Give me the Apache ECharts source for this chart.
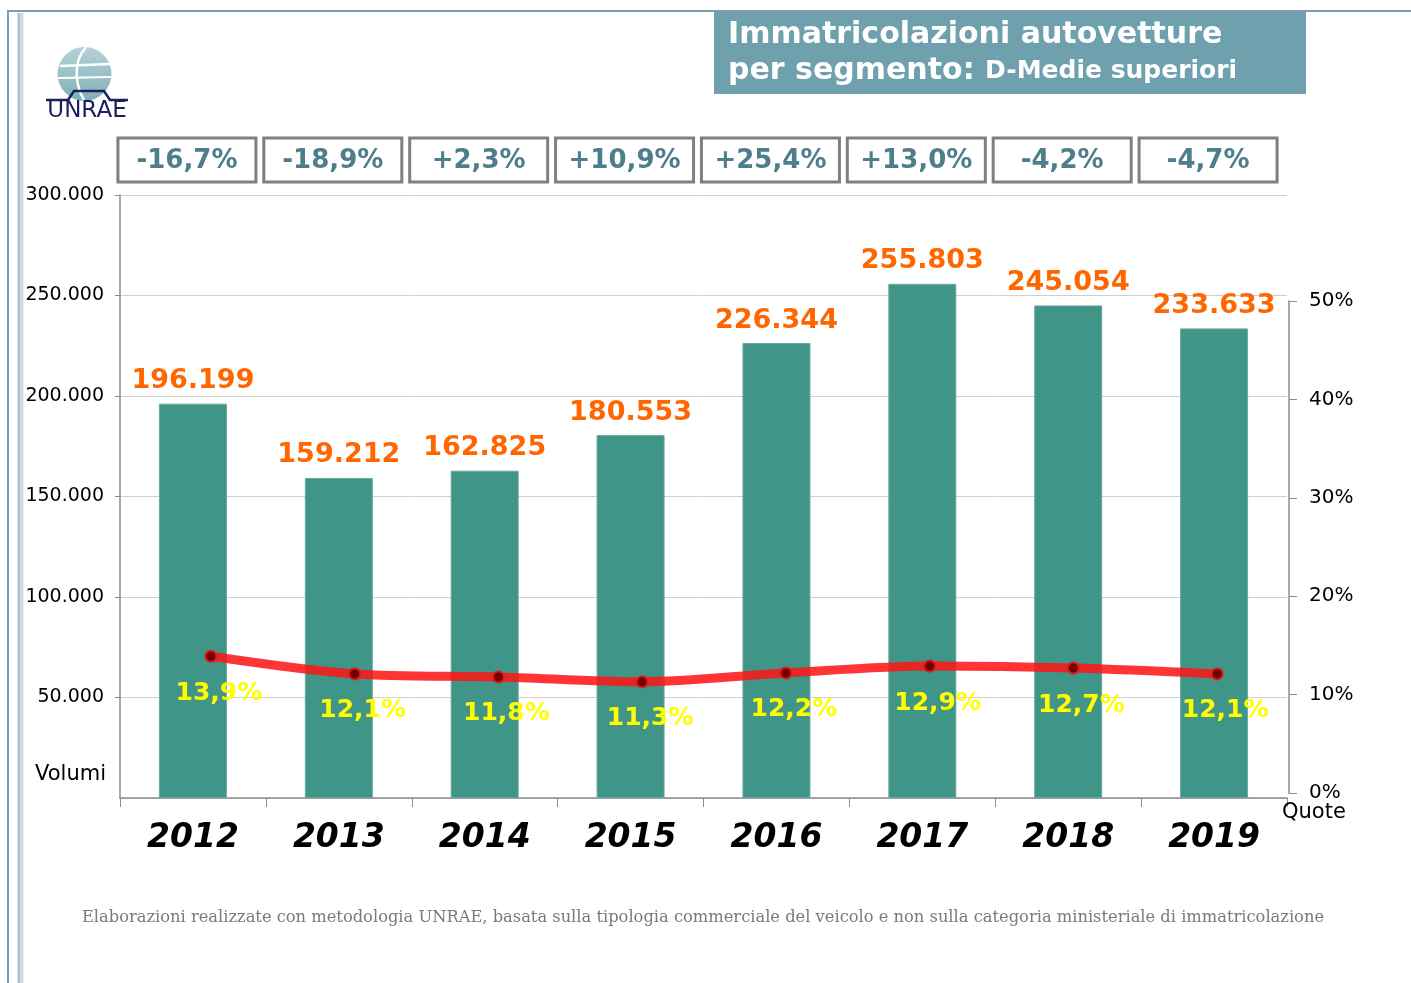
<!DOCTYPE html>
<html><head><meta charset="utf-8">
<script src="https://cdn.jsdelivr.net/npm/echarts@6/dist/echarts.min.js"></script>
<style>html,body{margin:0;padding:0;background:#fff}#c{width:1411px;height:983px}</style>
</head><body><div id="c"></div>
<script>
var years = ['2012','2013','2014','2015','2016','2017','2018','2019'];
var volumes = [196199, 159212, 162825, 180553, 226344, 255803, 245054, 233633];
var shares = [13.9, 12.1, 11.8, 11.3, 12.2, 12.9, 12.7, 12.1];
var changes = ['-16,7%','-18,9%','+2,3%','+10,9%','+25,4%','+13,0%','-4,2%','-4,7%'];
var leftTicks = [0, 50000, 100000, 150000, 200000, 250000, 300000];
var rightTicks = [0, 10, 20, 30, 40, 50];

function fmtThousands(v){
  var s = String(Math.round(v)), out = '';
  while (s.length > 3){ out = '.' + s.slice(-3) + out; s = s.slice(0, -3); }
  return s + out;
}
var F = 'DejaVu Sans';
var chart = echarts.init(document.getElementById('c'), null, {renderer:'canvas'});
var axisGray = '#8c8c8c';
var option = {
  backgroundColor:'#fff',
  animation:false,
  grid:[
    {left:120, right:124, top:195, bottom:185, containLabel:false},
    {left:139, right:122, top:301, bottom:190, containLabel:false}
  ],
  xAxis:[
    {type:'category', gridIndex:0, data:years,
     axisLine:{lineStyle:{color:axisGray, width:1.5}},
     axisTick:{show:true, length:9, lineStyle:{color:axisGray}},
     axisLabel:{fontFamily:F, fontWeight:'bold', fontStyle:'italic', fontSize:33, color:'#000', margin:24}},
    {type:'category', gridIndex:1, data:years, show:false}
  ],
  yAxis:[
    {type:'value', gridIndex:0, min:leftTicks[0], max:leftTicks[leftTicks.length-1], interval:leftTicks[1]-leftTicks[0],
     axisLine:{show:true, lineStyle:{color:axisGray, width:1.5}},
     axisTick:{show:true, length:5, lineStyle:{color:axisGray}},
     splitLine:{show:true, lineStyle:{color:'#cfcfcf', width:1}},
     axisLabel:{fontFamily:F, fontSize:19, color:'#000', margin:16, showMinLabel:false,
                formatter:function(v){return v === 0 ? '' : fmtThousands(v);}}},
    {type:'value', gridIndex:1, position:'right', min:rightTicks[0], max:rightTicks[rightTicks.length-1], interval:rightTicks[1]-rightTicks[0],
     axisLine:{show:true, lineStyle:{color:axisGray, width:1.5}},
     axisTick:{show:true, length:8, lineStyle:{color:axisGray}},
     splitLine:{show:false},
     axisLabel:{fontFamily:F, fontSize:20, color:'#000', margin:20, formatter:'{value}%'}}
  ],
  series:[
    {type:'bar', xAxisIndex:0, yAxisIndex:0, data:volumes, barWidth:68,
     itemStyle:{color:'#3f9688', borderColor:'#6aa89e', borderWidth:1},
     label:{show:true, position:'top', distance:9, fontFamily:F, fontWeight:'bold', fontSize:27, color:'#ff6600',
            formatter:function(p){return fmtThousands(p.value);}}, z:2},
    {type:'line', xAxisIndex:1, yAxisIndex:1, data:shares, smooth:0.3,
     lineStyle:{color:'rgba(255,20,20,0.86)', width:9, cap:'round'},
     symbol:'circle', symbolSize:11,
     itemStyle:{color:'#700000', borderColor:'#e01818', borderWidth:2},
     label:{show:true, position:'bottom', distance:18, offset:[8,0], fontFamily:F, fontWeight:'bold', fontSize:25, color:'#ffff00',
            formatter:function(p){return String(p.value.toFixed(1)).replace('.', ',') + '%';}}, z:5}
  ]
};
chart.setOption(option);

var g = [];
// frame
g.push({type:'line', shape:{x1:7, y1:11, x2:1411, y2:11}, style:{stroke:'#7f9bb2', lineWidth:2}, z:10});
g.push({type:'line', shape:{x1:8, y1:11, x2:8, y2:983}, style:{stroke:'#7f9bb2', lineWidth:2}, z:10});
g.push({type:'line', shape:{x1:19, y1:13, x2:19, y2:983}, style:{stroke:'#a9c1d2', lineWidth:3}, z:10});
g.push({type:'line', shape:{x1:22, y1:13, x2:22, y2:983}, style:{stroke:'#cddbe6', lineWidth:3}, z:10});
// title box
g.push({type:'rect', shape:{x:714, y:12, width:592, height:82}, style:{fill:'#6fa0ae'}, z:10});
g.push({type:'text', x:728, y:35, style:{text:'Immatricolazioni autovetture', fill:'#fff', font:'bold 30px "DejaVu Sans"', textVerticalAlign:'middle'}, z:11});
g.push({type:'text', x:728, y:71, style:{rich:{a:{fill:'#fff', font:'bold 30px "DejaVu Sans"'}, b:{fill:'#fff', font:'bold 25px "DejaVu Sans"'}}, text:'{a|per segmento: }{b|D-Medie superiori}', textVerticalAlign:'middle'}, z:11});
// logo
g.push({type:'circle', shape:{cx:84.5, cy:74, r:27}, style:{fill:new echarts.graphic.LinearGradient(0,0,0,1,[{offset:0,color:'#b5d2d6'},{offset:1,color:'#7fb0b7'}])}, z:10});
g.push({type:'bezierCurve', shape:{x1:86, y1:47, x2:84, y2:100, cpx1:70, cpy1:65, cpx2:78, cpy2:90}, style:{stroke:'#fff', lineWidth:2.5, fill:null}, z:11});
g.push({type:'line', shape:{x1:60, y1:66, x2:110, y2:64}, style:{stroke:'#fff', lineWidth:2.5}, z:11});
g.push({type:'line', shape:{x1:58, y1:78, x2:111, y2:77}, style:{stroke:'#fff', lineWidth:2}, z:11});
g.push({type:'polyline', shape:{points:[[46,100],[68,100],[74,91],[104,91],[110,100],[128,100]]}, style:{stroke:'#1c2060', lineWidth:2.5, fill:null}, z:11});
g.push({type:'text', x:87, y:111, style:{text:'UNRAE', fill:'#1c2060', font:'23px "DejaVu Sans"', textAlign:'center', textVerticalAlign:'middle'}, z:11});
// axis names
g.push({type:'text', x:35, y:775, style:{text:'Volumi', fill:'#000', font:'21px "DejaVu Sans"', textVerticalAlign:'middle'}, z:10});
g.push({type:'text', x:1282, y:813, style:{text:'Quote', fill:'#000', font:'21px "DejaVu Sans"', textVerticalAlign:'middle'}, z:10});
// footer
g.push({type:'text', x:703, y:918, style:{text:'Elaborazioni realizzate con metodologia UNRAE, basata sulla tipologia commerciale del veicolo e non sulla categoria ministeriale di immatricolazione', fill:'#7a7a7a', font:'16.3px "DejaVu Serif"', textAlign:'center', textVerticalAlign:'middle'}, z:10});
// change boxes, positioned from the category axis
for (var i = 0; i < years.length; i++){
  var cx = chart.convertToPixel({xAxisIndex:0}, years[i]) - 6;
  g.push({type:'rect', shape:{x:cx-69, y:138, width:138, height:44}, style:{fill:'#fff', stroke:'#7f7f7f', lineWidth:3}, z:10});
  g.push({type:'text', x:cx, y:161, style:{text:changes[i], fill:'#4e7d8c', font:'bold 26px "DejaVu Sans"', textAlign:'center', textVerticalAlign:'middle'}, z:11});
}
chart.setOption({graphic:{elements:g}});
</script>
</body></html>
